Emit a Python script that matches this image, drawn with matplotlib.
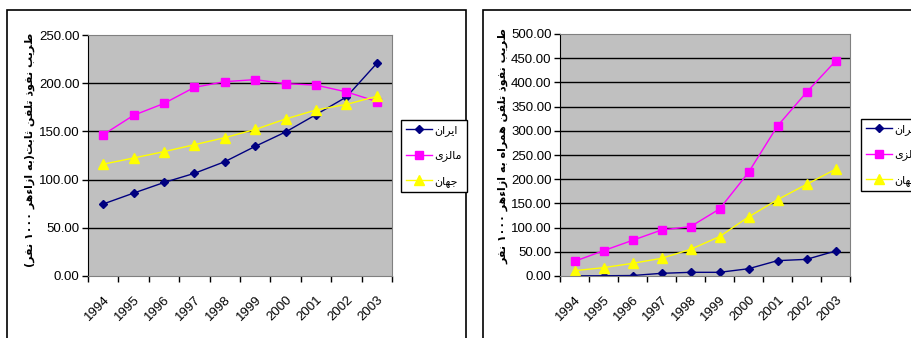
import matplotlib
matplotlib.use("Agg")
import matplotlib.pyplot as plt
from matplotlib.patches import Rectangle

plt.rcParams['font.family'] = ['Liberation Sans', 'DejaVu Sans']

years = ['1994', '1995', '1996', '1997', '1998', '1999', '2000', '2001', '2002', '2003']

# fixed-line penetration per 1000 people
fixed_iran = [74.7, 86.0, 97.0, 106.5, 118.6, 134.5, 149.4, 167.4, 185.7, 220.6]
fixed_malaysia = [146.6, 166.7, 179.0, 195.7, 201.6, 203.7, 199.5, 198.0, 191.0, 181.0]
fixed_world = [116.0, 122.4, 129.0, 136.2, 143.5, 152.0, 162.9, 172.2, 178.0, 186.4]

# mobile penetration per 1000 people
mobile_iran = [0.3, 0.5, 1.0, 5.5, 7.6, 7.6, 15.0, 31.7, 34.4, 51.6]
mobile_malaysia = [30.3, 52.3, 73.7, 95.0, 102.0, 138.4, 214.0, 310.0, 379.5, 444.0]
mobile_world = [11.0, 17.2, 26.2, 36.5, 55.0, 81.3, 122.0, 157.7, 189.4, 220.4]

series_names = ['ایران', 'مالزی', 'جهان']
ylabel_fixed = 'ضریب نفوذ تلفن ثابت(به ازاءهر ۱۰۰۰ نفر)'
ylabel_mobile = 'ضریب نفوذ تلفن همراه به ازاءهر ۱۰۰۰ نفر'

# presentation forms: isolated, final, initial, medial (None = does not join forward)
FORMS = {
    'ا': (0xFE8D, 0xFE8E, None, None),
    'ب': (0xFE8F, 0xFE90, 0xFE91, 0xFE92),
    'ت': (0xFE95, 0xFE96, 0xFE97, 0xFE98),
    'ث': (0xFE99, 0xFE9A, 0xFE9B, 0xFE9C),
    'ج': (0xFE9D, 0xFE9E, 0xFE9F, 0xFEA0),
    'ذ': (0xFEAB, 0xFEAC, None, None),
    'ر': (0xFEAD, 0xFEAE, None, None),
    'ز': (0xFEAF, 0xFEB0, None, None),
    'ض': (0xFEBF, 0xFEC0, 0xFEC1, 0xFEC2),
    'ف': (0xFED1, 0xFED2, 0xFED3, 0xFED4),
    'ل': (0xFEDD, 0xFEDE, 0xFEDF, 0xFEE0),
    'م': (0xFEE1, 0xFEE2, 0xFEE3, 0xFEE4),
    'ن': (0xFEE5, 0xFEE6, 0xFEE7, 0xFEE8),
    'ه': (0xFEE9, 0xFEEA, 0xFEEB, 0xFEEC),
    'و': (0xFEED, 0xFEEE, None, None),
    'ی': (0xFBFC, 0xFBFD, 0xFBFE, 0xFBFF),
    'ء': (0xFE80, None, None, None),
}
MIRROR = {'(': ')', ')': '('}


def farsi(text):
    """Shape Persian letters and put them in visual (left-to-right) order."""
    out = []
    for i, ch in enumerate(text):
        if ch not in FORMS:
            out.append(ch)
            continue
        prev = text[i - 1] if i > 0 else ''
        nxt = text[i + 1] if i + 1 < len(text) else ''
        join_prev = prev in FORMS and FORMS[prev][2] is not None and FORMS[ch][1] is not None
        join_next = FORMS[ch][2] is not None and nxt in FORMS and FORMS[nxt][1] is not None
        iso, fin, ini, med = FORMS[ch]
        if join_prev and join_next:
            code = med
        elif join_prev:
            code = fin
        elif join_next:
            code = ini
        else:
            code = iso
        out.append(chr(code))
    out = [MIRROR.get(c, c) for c in out[::-1]]
    # digit runs keep their own order
    res, run = [], []
    for c in out:
        if c.isdigit():
            run.append(c)
        else:
            res.extend(run[::-1])
            run = []
            res.append(c)
    res.extend(run[::-1])
    return ''.join(res)


W, H = 911, 338
fig = plt.figure(figsize=(W / 100, H / 100), dpi=100)

# chart frames
fig.patches.append(Rectangle((7 / W, -0.05), (466 - 7) / W, 1.05 - 10 / H, transform=fig.transFigure,
                             fill=False, edgecolor='black', linewidth=1.2))
fig.patches.append(Rectangle((483 / W, -0.05), 0.6, 1.05 - 10 / H, transform=fig.transFigure,
                             fill=False, edgecolor='black', linewidth=1.2))


def draw_chart(rect, iran, malaysia, world, ymax, ystep, ylabel, label_x, label_y, legend_xy):
    x0, y0, x1, y1 = rect
    ax = fig.add_axes([x0 / W, 1 - y1 / H, (x1 - x0) / W, (y1 - y0) / H])
    ax.set_facecolor('#c0c0c0')
    xs = range(len(years))
    l1, = ax.plot(xs, iran, color='#000080', marker='D', markersize=4.5, linewidth=1, label=farsi(series_names[0]))
    l2, = ax.plot(xs, malaysia, color='#ff00ff', marker='s', markersize=5.5, linewidth=1, label=farsi(series_names[1]))
    l3, = ax.plot(xs, world, color='#ffff00', marker='^', markersize=6.5, linewidth=1, label=farsi(series_names[2]))

    ax.set_xlim(-0.5, len(years) - 0.5)
    ax.set_ylim(0, ymax)
    yt = [i * ystep for i in range(int(ymax / ystep) + 1)]
    ax.set_yticks(yt)
    ax.set_yticklabels(['%.2f' % v for v in yt])
    for v in yt[1:-1]:
        ax.axhline(v, color='black', linewidth=1, zorder=1)

    ax.set_xticks([i - 0.5 for i in range(len(years) + 1)])
    ax.set_xticklabels([])
    ax.set_xticks(list(xs), minor=True)
    ax.set_xticklabels(years, minor=True, rotation=45, ha='right', rotation_mode='anchor', fontsize=9.5)
    ax.tick_params(axis='x', which='minor', length=0, pad=13)
    ax.tick_params(axis='x', which='major', direction='out', length=4, width=1)
    ax.tick_params(axis='y', direction='out', length=4, width=1, labelsize=9.5, pad=2)

    for s in ('top', 'right'):
        ax.spines[s].set_color('#808080')
    ax.spines['left'].set_color('black')
    ax.spines['bottom'].set_color('#808080')

    fig.text(label_x / W, 1 - label_y / H, farsi(ylabel), rotation=90, ha='center', va='center',
             fontsize=8, fontweight='bold', family='DejaVu Sans')

    leg = fig.legend(handles=[l1, l2, l3], loc='upper left', bbox_to_anchor=(legend_xy[0] / W, 1 - legend_xy[1] / H),
                     frameon=True, fancybox=False, edgecolor='black', framealpha=1, borderpad=0.45,
                     labelspacing=1.3, handlelength=2.3, handletextpad=0.25, borderaxespad=0,
                     prop={'family': 'DejaVu Sans', 'size': 8})
    leg.get_frame().set_linewidth(1)
    return ax


draw_chart((88, 35, 392, 276), fixed_iran, fixed_malaysia, fixed_world, 250, 50,
           ylabel_fixed, 30, 150, (401, 120))
draw_chart((560, 34, 850, 276), mobile_iran, mobile_malaysia, mobile_world, 500, 50,
           ylabel_mobile, 503, 146, (861, 119))

fig.savefig('out.png', dpi=100)
